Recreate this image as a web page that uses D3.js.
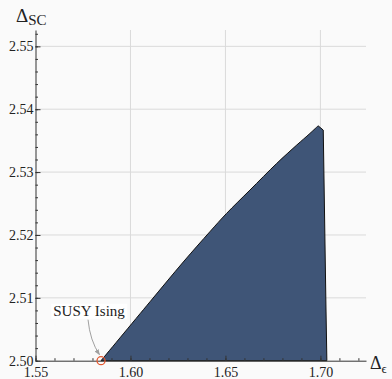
<!DOCTYPE html>
<html>
<head>
<meta charset="utf-8">
<script src="https://cdn.jsdelivr.net/npm/d3@7"></script>
<style>
    html, body { margin: 0; padding: 0; background: #fafafa; }
    svg { display: block; }
    text { font-family: "Liberation Serif", "DejaVu Serif", serif; fill: #222; }
</style>
</head>
<body>
<div id="chart"></div>
<script>
// boundary of the allowed region (Delta_eps, Delta_SC): smooth upper edge up to the peak
const edgeEps = [1.5845, 1.6103, 1.6278, 1.6418, 1.6506, 1.6629, 1.6770, 1.6875, 1.6945, 1.6988]
const edgeSC = [2.5000, 2.50938, 2.51570, 2.52051, 2.52343, 2.52714, 2.53138, 2.53429, 2.53615, 2.53736]

// then the nearly vertical right edge back down to the axis
const wallEps = [1.7015, 1.7029, 1.7034]
const wallSC = [2.53668, 2.50886, 2.5000]

const xTicks = [1.55, 1.60, 1.65, 1.70]
const yTicks = [2.50, 2.51, 2.52, 2.53, 2.54, 2.55]

const susyPoint = [1.5845, 2.5000]
const susyLabel = "SUSY Ising"

let width = 392,
    height = 379

let svg = d3.select("#chart")
    .append("svg")
    .attr("width", width)
    .attr("height", height)

let x = d3.scaleLinear().domain([1.55, 1.724]).range([35.5, 366]),
    y = d3.scaleLinear().domain([2.5, 2.5526]).range([360.7, 30])

let xMinor = d3.range(0, 18).map(i => 1.55 + i * 0.01),
    yMinor = d3.range(0, 27).map(i => 2.5 + i * 0.002)

// grid
svg.append("g")
    .selectAll("line")
    .data(xTicks.slice(1))
    .join("line")
    .attr("x1", d => x(d)).attr("x2", d => x(d))
    .attr("y1", y.range()[0]).attr("y2", y.range()[1])
    .attr("stroke", "#dadada")
    .attr("stroke-width", 1)

svg.append("g")
    .selectAll("line")
    .data(yTicks.slice(1))
    .join("line")
    .attr("x1", x.range()[0]).attr("x2", x.range()[1])
    .attr("y1", d => y(d)).attr("y2", d => y(d))
    .attr("stroke", "#dadada")
    .attr("stroke-width", 1)

// allowed region
let edge = edgeEps.map((e, i) => [x(e), y(edgeSC[i])]),
    wall = wallEps.map((e, i) => [x(e), y(wallSC[i])])

let regionPath = d3.line().curve(d3.curveCatmullRom)(edge) +
    wall.map(p => "L" + p[0] + "," + p[1]).join("") + "Z"

svg.append("path")
    .attr("d", regionPath)
    .attr("fill", "#3f5577")
    .attr("stroke", "#111")
    .attr("stroke-width", 1)
    .attr("stroke-linejoin", "round")

// axes
function styleAxis(g) {
    g.attr("font-family", null)
    g.selectAll("path.domain").attr("stroke", "#333")
    g.selectAll(".tick line").attr("stroke", "#333")
    g.selectAll("text")
        .attr("font-size", 14)
        .attr("fill", "#222")
}

svg.append("g")
    .attr("transform", `translate(0,${y(2.5)})`)
    .call(d3.axisBottom(x).tickValues(xMinor).tickFormat("").tickSize(-2.5).tickSizeOuter(0))
    .call(styleAxis)

svg.append("g")
    .attr("transform", `translate(0,${y(2.5)})`)
    .call(d3.axisBottom(x).tickValues(xTicks).tickFormat(d3.format(".2f")).tickSize(-5).tickSizeOuter(0).tickPadding(6))
    .call(styleAxis)
    .call(g => g.select("path.domain").remove())

svg.append("g")
    .attr("transform", `translate(${x(1.55)},0)`)
    .call(d3.axisLeft(y).tickValues(yMinor).tickFormat("").tickSize(-2.5).tickSizeOuter(0))
    .call(styleAxis)

svg.append("g")
    .attr("transform", `translate(${x(1.55)},0)`)
    .call(d3.axisLeft(y).tickValues(yTicks).tickFormat(d3.format(".2f")).tickSize(-5).tickSizeOuter(0).tickPadding(2))
    .call(styleAxis)
    .call(g => g.select("path.domain").remove())

// axis labels
let yLabel = svg.append("text")
    .attr("x", 16)
    .attr("y", 22)

yLabel.append("tspan").attr("font-size", 19).text("Δ")
yLabel.append("tspan").attr("font-size", 15).attr("dy", 2.5).text("SC")

let xLabel = svg.append("text")
    .attr("x", 370)
    .attr("y", 368.5)

xLabel.append("tspan").attr("font-size", 18).text("Δ")
xLabel.append("tspan").attr("font-size", 13).attr("dy", 4).text("ϵ")

// SUSY Ising annotation
let px = x(susyPoint[0]),
    py = y(susyPoint[1])

svg.append("defs")
    .append("marker")
    .attr("id", "arrow")
    .attr("viewBox", "0 0 10 10")
    .attr("refX", 9)
    .attr("refY", 5)
    .attr("markerWidth", 6)
    .attr("markerHeight", 6)
    .attr("orient", "auto")
    .append("path")
    .attr("d", "M0,1 L10,5 L0,9 Z")
    .attr("fill", "#a0a0a0")

svg.append("path")
    .attr("d", `M${px - 13},${py - 41} Q${px - 11},${py - 20} ${px - 1.5},${py - 6}`)
    .attr("fill", "none")
    .attr("stroke", "#a0a0a0")
    .attr("stroke-width", 1)
    .attr("marker-end", "url(#arrow)")

let labelG = svg.append("g")

let labelText = labelG.append("text")
    .attr("x", px - 12)
    .attr("y", py - 45)
    .attr("text-anchor", "middle")
    .attr("font-size", 15)
    .text(susyLabel)

let bb = labelText.node().getBBox()

labelG.insert("rect", "text")
    .attr("x", bb.x - 2)
    .attr("y", bb.y + 1)
    .attr("width", bb.width + 4)
    .attr("height", bb.height - 1)
    .attr("fill", "#ffffff")

svg.append("circle")
    .attr("cx", px)
    .attr("cy", py)
    .attr("r", 4)
    .attr("fill", "none")
    .attr("stroke", "#e4572e")
    .attr("stroke-width", 1.3)
</script>
</body>
</html>
